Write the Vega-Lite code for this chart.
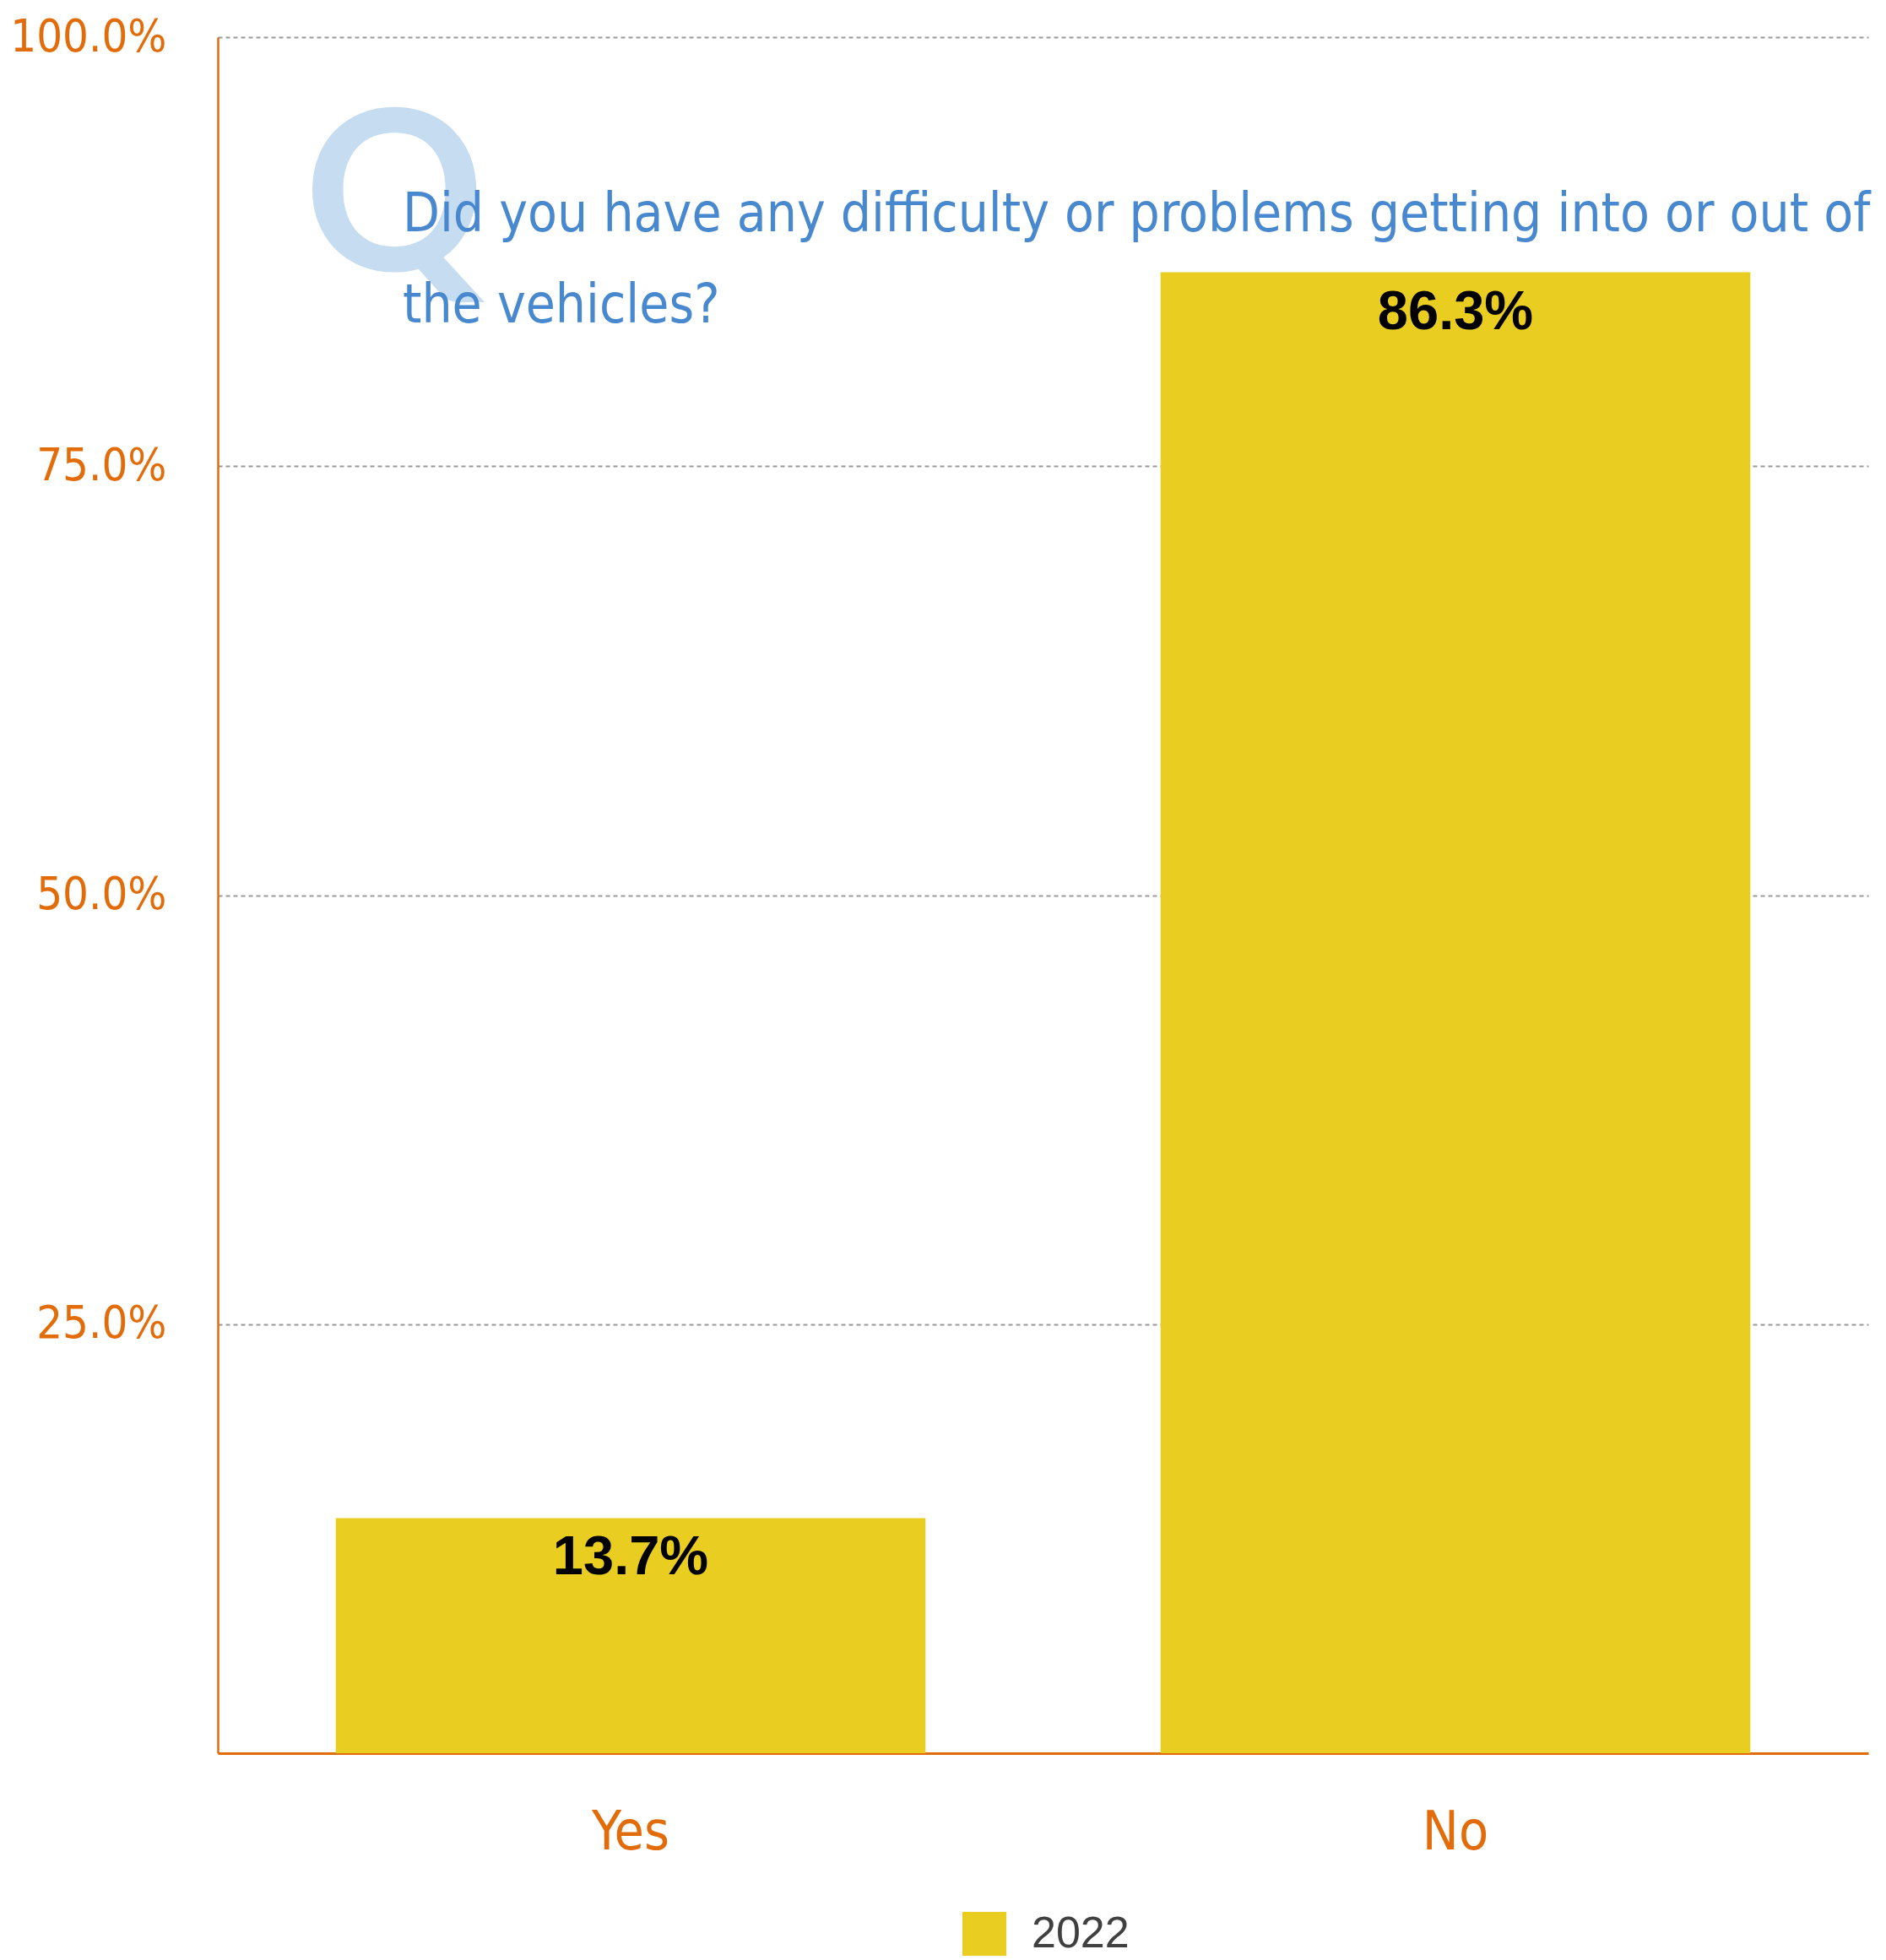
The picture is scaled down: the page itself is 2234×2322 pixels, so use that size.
{
  "$schema": "https://vega.github.io/schema/vega-lite/v6.json",
  "width": 1955,
  "height": 2033,
  "autosize": {"type": "none"},
  "padding": {"left": 258, "top": 44, "right": 21, "bottom": 245},
  "background": "white",
  "config": {
    "view": {"stroke": null},
    "font": "Liberation Sans"
  },
  "layer": [
    {
      "data": {"values": [
        {"answer": "Yes", "share": 0.137, "year": "2022"},
        {"answer": "No", "share": 0.863, "year": "2022"}
      ]},
      "mark": {"type": "bar"},
      "encoding": {
        "x": {
          "field": "answer", "type": "nominal", "sort": ["Yes", "No"],
          "scale": {"paddingInner": 0.285, "paddingOuter": 0.143},
          "axis": {
            "title": null, "labelAngle": 0, "ticks": false,
            "labelFont": "DejaVu Sans Condensed, sans-serif",
            "labelFontSize": 64, "labelColor": "#E36C0A", "labelPadding": 62,
            "domainColor": "#E36C0A", "domainWidth": 3, "grid": false
          }
        },
        "y": {
          "field": "share", "type": "quantitative",
          "scale": {"domain": [0, 1], "nice": false},
          "axis": {
            "title": null, "values": [0.25, 0.5, 0.75, 1], "format": ".1%",
            "ticks": false, "labelPadding": 61, "labelLimit": 0,
            "labelFont": "DejaVu Sans Condensed, sans-serif",
            "labelFontSize": 54, "labelColor": "#E36C0A",
            "domainColor": "#E36C0A", "domainWidth": 2.5,
            "grid": true, "gridColor": "#999999", "gridDash": [5, 4], "gridWidth": 2
          }
        },
        "color": {
          "field": "year", "type": "nominal",
          "scale": {"range": ["#E9CE21"]},
          "legend": {
            "title": null, "orient": "none", "legendX": 882, "legendY": 2221,
            "direction": "horizontal",
            "symbolType": "square", "symbolSize": 2704, "symbolStrokeWidth": 0,
            "labelFontSize": 52, "labelColor": "#404040", "labelFont": "Liberation Sans",
            "padding": 0, "labelOffset": 30
          }
        }
      }
    },
    {
      "data": {"values": [
        {"answer": "Yes", "share": 0.137},
        {"answer": "No", "share": 0.863}
      ]},
      "mark": {"type": "text", "baseline": "top", "dy": 16, "fontSize": 65, "fontWeight": "bold", "color": "#000000", "font": "Liberation Sans"},
      "encoding": {
        "x": {"field": "answer", "type": "nominal", "sort": ["Yes", "No"]},
        "y": {"field": "share", "type": "quantitative"},
        "text": {"field": "share", "type": "quantitative", "format": ".1%"}
      }
    },
    {
      "data": {"values": [{"letter": "Q"}]},
      "mark": {"type": "text", "align": "center", "baseline": "alphabetic", "dx": -280, "fontSize": 265, "fontWeight": "bold", "color": "#C6DCF0", "font": "Lato, Liberation Sans"},
      "encoding": {
        "x": {"datum": "Yes"},
        "y": {"datum": 0.864},
        "text": {"field": "letter"}
      }
    },
    {
      "data": {"values": [{"question": ["Did you have any difficulty or problems getting into or out of", "the vehicles?"]}]},
      "mark": {"type": "text", "align": "left", "baseline": "alphabetic", "dx": -270, "fontSize": 63.5, "lineHeight": 108, "color": "#4788CF", "font": "DejaVu Sans Condensed, sans-serif"},
      "encoding": {
        "x": {"datum": "Yes"},
        "y": {"datum": 0.887},
        "text": {"field": "question"}
      }
    }
  ]
}
